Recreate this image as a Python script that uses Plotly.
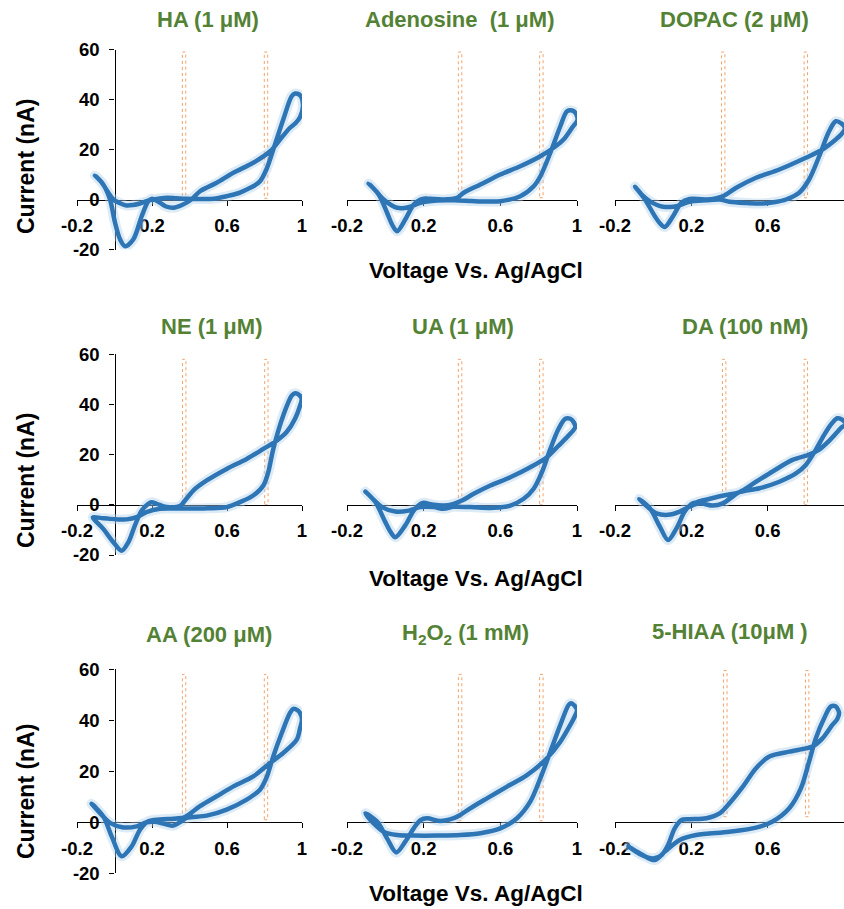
import plotly.graph_objects as go

# ---------------- data (voltage V vs Ag/AgCl, current nA) ----------------
TITLES = ["HA (1 μM)", "Adenosine\u00a0 (1 μM)", "DOPAC (2 μM)",
          "NE (1 μM)", "UA (1 μM)", "DA (100 nM)",
          "AA (200 μM)", "H<sub>2</sub>O<sub>2</sub> (1 mM)", "5-HIAA (10μM )"]

HA_V = [-0.104, -0.07, -0.035, -0.006, 0.03, 0.065, 0.10, 0.136, 0.19, 0.24, 0.28, 0.33, 0.385, 0.456, 0.53, 0.598, 0.66, 0.705, 0.745, 0.776, 0.81, 0.847, 0.9, 0.945, 0.963, 0.985, 0.998, 1.005, 0.99, 0.965, 0.936, 0.883, 0.83, 0.74, 0.634, 0.545, 0.456, 0.41, 0.36, 0.314, 0.275, 0.243, 0.2, 0.18, 0.145, 0.10, 0.056, 0.03, 0.003, -0.024, -0.06, -0.104]
HA_I = [9.6, 7.0, 3.0, 0.0, -1.5, -2.4, -2.2, -1.6, -0.2, 0.4, 0.7, 0.5, 0.3, 0.2, 0.3, 1.3, 2.5, 4.0, 5.5, 7.3, 12.0, 20.0, 32.0, 41.3, 42.4, 42.0, 40.7, 37.3, 33.0, 30.5, 28.7, 24.0, 19.3, 14.7, 10.7, 6.7, 3.3, 0.0, -2.2, -3.3, -2.8, -1.3, 0.3, -0.7, -6.7, -16.0, -18.7, -16.0, -9.3, 0.0, 6.0, 9.6]

AD_V = [-0.087, -0.05, -0.009, 0.03, 0.061, 0.10, 0.13, 0.183, 0.27, 0.36, 0.45, 0.53, 0.6, 0.704, 0.774, 0.809, 0.861, 0.913, 0.948, 0.975, 0.991, 1.003, 0.974, 0.93, 0.878, 0.809, 0.704, 0.6, 0.496, 0.409, 0.374, 0.304, 0.235, 0.209, 0.183, 0.148, 0.104, 0.061, 0.035, 0.009, -0.035, -0.087]
AD_I = [6.4, 3.5, 0.0, -2.2, -3.3, -3.4, -2.9, -1.3, -0.4, -0.3, -0.6, -0.8, -0.7, 1.3, 5.3, 9.3, 18.7, 29.3, 35.3, 35.6, 34.7, 32.0, 28.7, 24.0, 20.7, 17.3, 13.3, 10.0, 6.0, 2.7, 0.7, 0.0, 0.3, 0.4, 0.0, -2.0, -8.0, -12.7, -10.0, -5.3, 2.0, 6.4]

DO_V = [-0.095, -0.06, -0.017, 0.02, 0.052, 0.09, 0.122, 0.191, 0.279, 0.348, 0.4, 0.49, 0.574, 0.64, 0.696, 0.765, 0.817, 0.87, 0.922, 0.957, 0.985, 1.005, 0.985, 0.957, 0.887, 0.8, 0.661, 0.539, 0.435, 0.365, 0.279, 0.209, 0.191, 0.148, 0.104, 0.061, 0.035, 0.009, -0.043, -0.095]
DO_I = [5.1, 2.0, -0.7, -2.2, -2.9, -3.0, -2.7, -0.9, -0.3, 0.0, -0.9, -1.4, -1.6, -1.0, 0.0, 2.7, 8.0, 17.3, 27.3, 31.3, 30.5, 28.5, 26.0, 24.0, 20.0, 16.7, 12.0, 8.7, 4.7, 1.3, 0.0, 0.3, 0.2, -1.3, -6.7, -11.0, -9.5, -6.7, 0.0, 5.1]

NE_V = [-0.115, -0.07, -0.024, 0.02, 0.065, 0.118, 0.17, 0.243, 0.33, 0.42, 0.5, 0.598, 0.669, 0.74, 0.794, 0.82, 0.847, 0.9, 0.945, 0.963, 0.985, 0.998, 0.99, 0.963, 0.918, 0.865, 0.794, 0.705, 0.598, 0.492, 0.42, 0.376, 0.349, 0.278, 0.225, 0.198, 0.18, 0.145, 0.109, 0.074, 0.038, -0.006, -0.06, -0.115]
NE_I = [-5.0, -5.3, -5.6, -5.8, -5.8, -4.9, -2.9, -1.6, -1.5, -1.5, -1.4, -0.9, 1.1, 3.7, 7.7, 13.0, 22.3, 35.6, 43.5, 44.5, 43.8, 42.2, 39.6, 34.3, 29.0, 25.6, 22.3, 18.3, 14.3, 9.7, 5.7, 1.7, -0.5, -0.9, 0.4, 1.0, 0.4, -2.3, -8.2, -14.9, -18.3, -14.9, -9.6, -5.0]

UA_V = [-0.104, -0.06, -0.017, 0.052, 0.122, 0.183, 0.252, 0.304, 0.356, 0.443, 0.565, 0.652, 0.722, 0.774, 0.817, 0.861, 0.904, 0.939, 0.965, 0.982, 0.991, 0.956, 0.904, 0.843, 0.756, 0.652, 0.548, 0.461, 0.4, 0.356, 0.304, 0.252, 0.2, 0.183, 0.148, 0.104, 0.052, 0.025, 0.0, -0.052, -0.104]
UA_I = [5.3, 2.0, -0.9, -2.7, -2.3, -0.9, -0.9, -1.6, -0.8, -0.9, -1.2, -0.3, 2.4, 6.4, 13.0, 22.3, 30.3, 34.3, 34.3, 33.0, 31.0, 27.6, 23.6, 19.0, 15.0, 11.0, 7.7, 4.4, 1.7, 0.4, -0.3, 0.0, 0.8, 0.4, -2.3, -8.2, -12.9, -10.5, -6.9, 1.1, 5.3]

DA_V = [-0.073, -0.03, 0.017, 0.078, 0.139, 0.191, 0.244, 0.313, 0.365, 0.417, 0.45, 0.557, 0.661, 0.748, 0.8, 0.852, 0.896, 0.939, 0.965, 0.99, 1.01, 0.99, 0.965, 0.922, 0.87, 0.817, 0.73, 0.626, 0.539, 0.45, 0.383, 0.313, 0.226, 0.2, 0.165, 0.122, 0.078, 0.035, -0.017, -0.073]
DA_I = [2.3, -0.8, -3.4, -4.0, -2.7, -0.7, 0.6, -0.3, 0.6, 3.3, 5.0, 6.6, 9.2, 12.5, 15.9, 21.9, 27.9, 32.7, 34.5, 34.0, 32.0, 31.0, 29.0, 25.5, 22.0, 20.0, 17.9, 13.3, 9.2, 5.0, 3.9, 2.7, 1.0, 0.3, -2.7, -9.4, -14.0, -8.7, -1.4, 2.3]

AA_V = [-0.122, -0.07, -0.024, 0.047, 0.118, 0.171, 0.215, 0.259, 0.312, 0.357, 0.385, 0.492, 0.598, 0.705, 0.776, 0.81, 0.847, 0.892, 0.936, 0.954, 0.975, 0.989, 1.0, 0.99, 0.972, 0.9, 0.83, 0.74, 0.634, 0.545, 0.456, 0.376, 0.331, 0.243, 0.18, 0.136, 0.092, 0.038, -0.015, -0.06, -0.122]
AA_I = [7.3, 3.0, -0.2, -2.0, -1.6, 0.0, 0.2, -0.5, -1.3, 0.4, 1.7, 2.6, 5.0, 8.9, 12.8, 17.4, 25.9, 35.0, 42.9, 44.5, 44.0, 42.9, 40.3, 37.0, 32.4, 27.2, 23.3, 18.0, 14.1, 10.2, 6.3, 2.1, 1.5, 1.1, 0.4, -2.9, -9.4, -13.3, -5.5, 2.4, 7.3]

HO_V = [-0.104, -0.06, -0.009, 0.061, 0.148, 0.27, 0.391, 0.496, 0.6, 0.687, 0.756, 0.809, 0.861, 0.913, 0.956, 0.968, 0.99, 1.0, 0.985, 0.965, 0.913, 0.843, 0.739, 0.635, 0.53, 0.443, 0.391, 0.357, 0.287, 0.218, 0.183, 0.148, 0.104, 0.057, 0.009, -0.043, -0.104]
HO_I = [3.5, -0.5, -3.7, -5.0, -5.2, -5.2, -5.0, -4.3, -2.4, 1.6, 8.1, 17.3, 27.7, 38.2, 46.0, 46.7, 45.5, 44.0, 41.0, 38.2, 31.6, 25.1, 18.5, 14.0, 9.4, 5.5, 2.9, 1.6, 0.5, 1.6, 0.9, -2.4, -7.6, -11.8, -6.3, 0.3, 3.5]

HI_V = [-0.13, -0.069, 0.009, 0.061, 0.139, 0.226, 0.4, 0.539, 0.626, 0.713, 0.774, 0.817, 0.852, 0.896, 0.931, 0.955, 0.974, 0.965, 0.939, 0.887, 0.835, 0.8, 0.713, 0.609, 0.539, 0.47, 0.4, 0.348, 0.279, 0.191, 0.148, 0.113, 0.078, 0.045, 0.0, -0.069, -0.13]
HI_I = [-9.5, -12.2, -14.8, -11.5, -6.9, -5.0, -3.7, -2.1, 0.3, 5.5, 13.3, 23.8, 32.9, 40.8, 45.4, 45.5, 43.0, 40.5, 38.2, 32.9, 29.7, 29.0, 27.7, 25.8, 21.2, 14.0, 7.5, 3.5, 1.6, 1.2, 0.9, -2.4, -8.9, -12.8, -14.2, -12.5, -9.5]

# potential windows (dotted orange boxes)
WIN1_V = [0.371, 0.390, 0.367, 0.372, 0.390, 0.372, 0.371, 0.390, 0.378]
WIN2_V = [0.808, 0.814, 0.800, 0.810, 0.814, 0.800, 0.808, 0.814, 0.807]
WIN_TOP = [59.0, 59.0, 59.0, 58.0, 58.0, 58.0, 58.0, 58.0, 59.5]
WIN_BOT = [0.5, 0.7, 0.7, 0.0, 0.0, 0.0, 1.0, 0.6, 2.2]

X_TICKS = [-0.2, 0.2, 0.6, 1.0]
X_TICKTEXT = ["-0.2", "0.2", "0.6", "1"]
Y_TICKS = [-20, 0, 20, 40, 60]
Y_TICKTEXT = ["-20", "0", "20", "40", "60"]

X_TITLE = "Voltage Vs. Ag/AgCl"
Y_TITLE = "Current (nA)"

SERIES = [(HA_V, HA_I), (AD_V, AD_I), (DO_V, DO_I),
          (NE_V, NE_I), (UA_V, UA_I), (DA_V, DA_I),
          (AA_V, AA_I), (HO_V, HO_I), (HI_V, HI_I)]

# ---------------- layout geometry ----------------
W, H = 844, 909
COL_L = [77, 347, 615]
COL_R = [302, 577, 844]
ROW_T = [49.5, 354.3, 669.3]
ROW_B = [249.5, 555.0, 873.3]
XR = [-0.2, 1.0]
YR = [-20, 60]

TITLE_POS = [(208, 20), (460, 20), (734, 20),
             (211, 326), (463, 326), (745, 326),
             (209, 634), (465, 634), (730, 631)]
XTITLE_Y = [270, 578, 893]
YTITLE_Y = [167, 481, 792]

FONT = "Liberation Sans, Arial, sans-serif"
BLUE = "#2E75B6"
GLOW = "rgba(180,210,238,0.45)"
GREEN = "#548235"
ORANGE = "#F2A36B"

fig = go.Figure()
layout = dict(width=W, height=H, margin=dict(l=0, r=0, t=0, b=0, autoexpand=False),
              paper_bgcolor="white", plot_bgcolor="white", showlegend=False)
shapes = []
annotations = []

for k, (V, I) in enumerate(SERIES):
    r, c = divmod(k, 3)
    sfx = "" if k == 0 else str(k + 1)
    xd = [COL_L[c] / W, COL_R[c] / W]
    yd = [1 - ROW_B[r] / H, 1 - ROW_T[r] / H]
    y0pos = yd[0] + (0 - YR[0]) / (YR[1] - YR[0]) * (yd[1] - yd[0])
    x0pos = xd[0] + (0 - XR[0]) / (XR[1] - XR[0]) * (xd[1] - xd[0])

    for col, wdt in ((GLOW, 10), (BLUE, 4.5)):
        fig.add_trace(go.Scatter(x=V, y=I, mode="lines",
                                 line=dict(color=col, width=wdt, shape="spline", smoothing=0.9),
                                 xaxis="x" + sfx, yaxis="y" + sfx, hoverinfo="skip"))

    layout["xaxis" + sfx] = dict(
        domain=xd, range=XR, anchor="free", position=y0pos, automargin=False,
        showgrid=False, zeroline=False, showline=True, linecolor="black", linewidth=1.3,
        ticks="outside", ticklen=5, tickwidth=1.3, tickcolor="black",
        tickvals=X_TICKS, ticktext=X_TICKTEXT, ticklabelstandoff=4,
        tickfont=dict(family=FONT, size=18.5, color="black", weight="bold"),
        layer="below traces")
    ydict = dict(
        domain=yd, range=YR, anchor="free", position=x0pos, automargin=False,
        showgrid=False, zeroline=False, layer="below traces")
    if c == 0:
        ydict.update(showline=True, linecolor="black", linewidth=1.3,
                     ticks="outside", ticklen=5, tickwidth=1.3, tickcolor="black",
                     tickvals=Y_TICKS, ticktext=Y_TICKTEXT, ticklabelstandoff=6,
                     tickfont=dict(family=FONT, size=18.5, color="black", weight="bold"))
    else:
        ydict.update(showline=False, ticks="", showticklabels=False)
    layout["yaxis" + sfx] = ydict

    for wv in (WIN1_V[k], WIN2_V[k]):
        shapes.append(dict(type="rect", xref="x" + sfx, yref="y" + sfx,
                           x0=wv - 0.009, x1=wv + 0.009, y0=WIN_BOT[k], y1=WIN_TOP[k],
                           line=dict(color=ORANGE, width=1, dash="dot"), layer="below"))

    tx, ty = TITLE_POS[k]
    annotations.append(dict(text=TITLES[k], x=tx / W, y=1 - ty / H, xref="paper", yref="paper",
                            showarrow=False, xanchor="center", yanchor="middle",
                            font=dict(family=FONT, size=22, color=GREEN, weight="bold")))

for r in range(3):
    annotations.append(dict(text=X_TITLE, x=476 / W, y=1 - XTITLE_Y[r] / H, xref="paper", yref="paper",
                            showarrow=False, xanchor="center", yanchor="middle",
                            font=dict(family=FONT, size=22.5, color="black", weight="bold")))
    annotations.append(dict(text=Y_TITLE, x=26 / W, y=1 - YTITLE_Y[r] / H, xref="paper", yref="paper",
                            showarrow=False, xanchor="center", yanchor="middle", textangle=-90,
                            font=dict(family=FONT, size=23, color="black", weight="bold")))

layout["shapes"] = shapes
layout["annotations"] = annotations
fig.update_layout(**layout)
fig.write_html("out.html", config={"displayModeBar": False},
               post_script="document.body.style.margin='0';document.body.style.overflow='hidden';")
